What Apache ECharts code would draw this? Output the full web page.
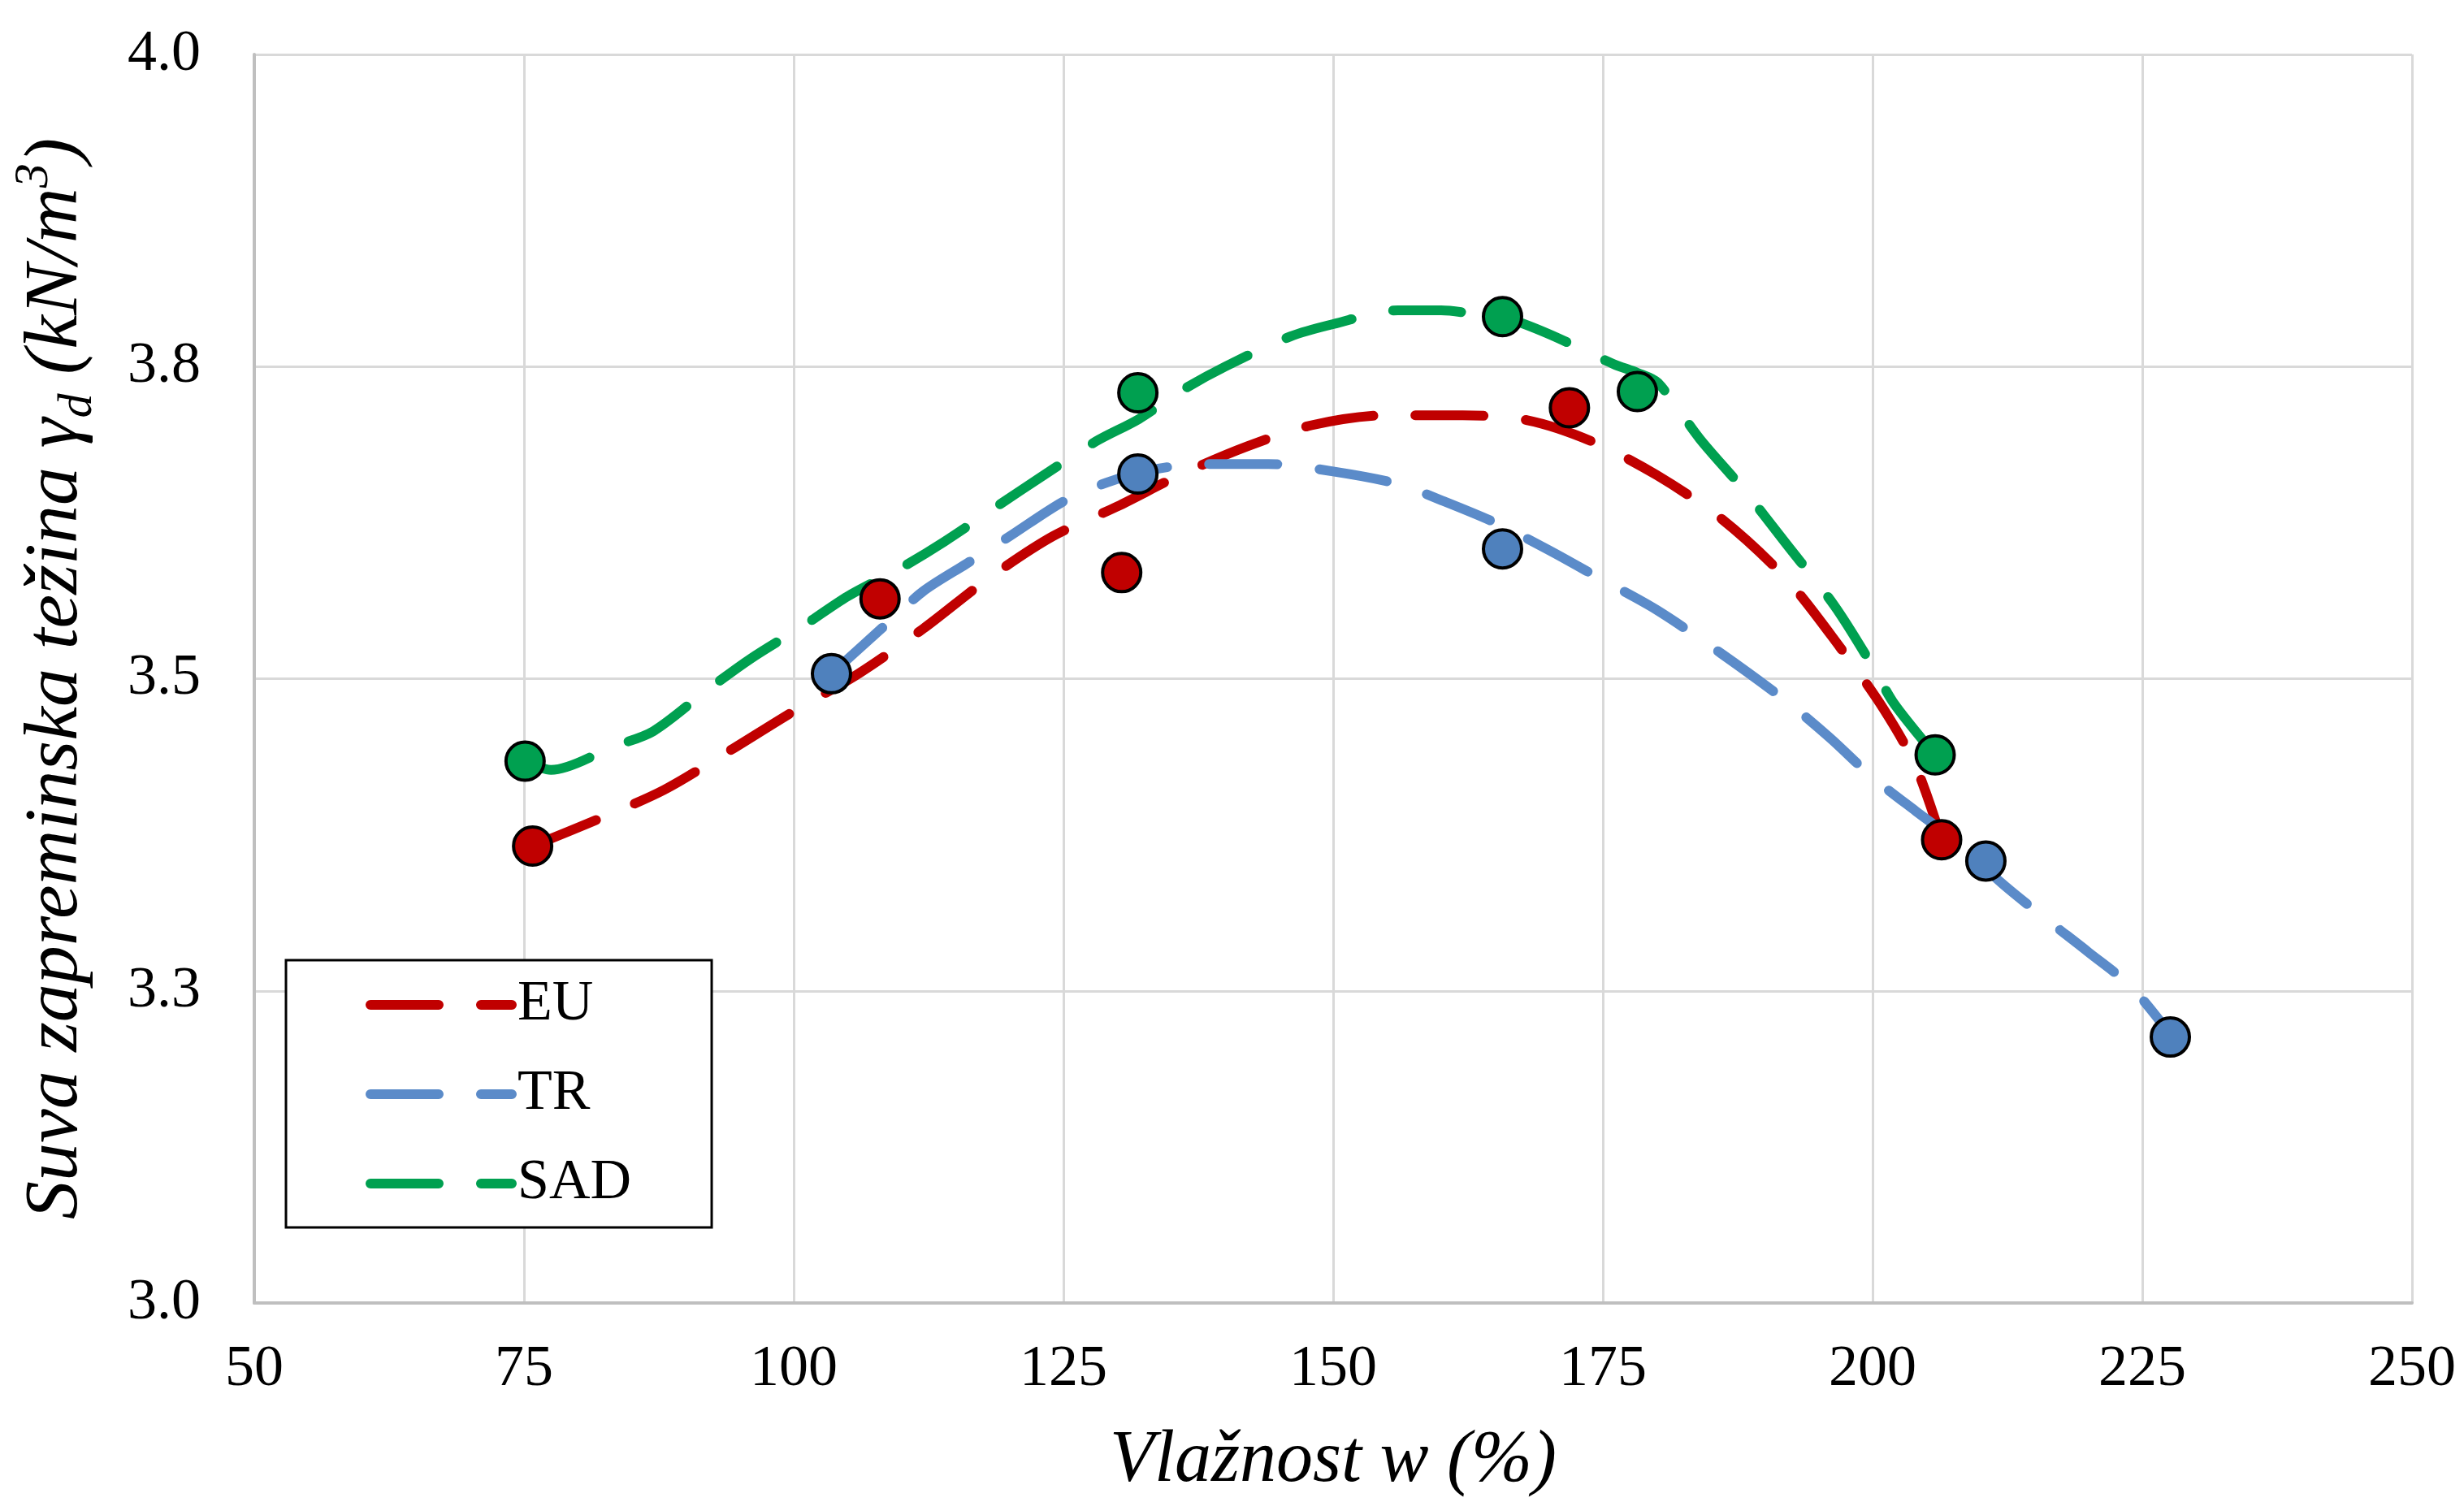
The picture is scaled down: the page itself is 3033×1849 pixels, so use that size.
<!DOCTYPE html>
<html>
<head>
<meta charset="utf-8">
<script src="https://cdn.jsdelivr.net/npm/echarts@6/dist/echarts.min.js"></script>
<style>
html,body{margin:0;padding:0;background:#fff;}
#chart{width:3033px;height:1849px;}
</style>
</head>
<body>
<div id="chart"></div>
<script>
// ---- tick labels ----
var xTickLabels = ['50','75','100','125','150','175','200','225','250'];
var yTickLabels = ['3.0','3.3','3.5','3.8','4.0'];

// ---- measured points ----
var euX  = [75.8, 108.0, 130.4, 171.9, 206.4];
var euY  = [3.366, 3.564, 3.585, 3.717, 3.371];
var trX  = [103.5, 131.9, 165.7, 210.5, 227.6];
var trY  = [3.504, 3.664, 3.604, 3.354, 3.213];
var sadX = [75.1, 131.9, 165.7, 178.2, 205.8];
var sadY = [3.434, 3.729, 3.790, 3.730, 3.439];

// ---- dashed curves ----
var euCurveX = [75.8, 82, 88, 94, 100, 106, 112, 118, 124, 130, 136, 142, 148, 155, 162, 168, 174, 180, 186, 192, 197, 201, 204, 206.4];
var euCurveY = [3.366, 3.388, 3.411, 3.442, 3.474, 3.504, 3.540, 3.580, 3.614, 3.638, 3.664, 3.686, 3.703, 3.711, 3.711, 3.707, 3.690, 3.663, 3.628, 3.580, 3.525, 3.476, 3.430, 3.371];
var trCurveX = [103.5, 108.5, 112, 116, 120, 125, 129, 133, 138, 144, 150, 156, 160, 165, 170, 175, 180, 186, 192, 196, 200, 204, 208, 212, 216, 220, 224, 227.6];
var trCurveY = [3.504, 3.543, 3.570, 3.592, 3.614, 3.642, 3.657, 3.667, 3.672, 3.672, 3.666, 3.656, 3.643, 3.625, 3.603, 3.579, 3.555, 3.520, 3.482, 3.453, 3.421, 3.394, 3.368, 3.336, 3.308, 3.281, 3.253, 3.215];
var sadCurveX = [75.1, 77.5, 83.4, 87, 92, 96, 101, 105, 110, 114, 119, 123, 128, 132, 136, 140, 146, 150, 156, 160, 164, 166, 170, 176, 178.2, 180.1, 184, 188, 192, 196.5, 200, 202, 205.8];
var sadCurveY = [3.434, 3.427, 3.446, 3.458, 3.491, 3.516, 3.543, 3.566, 3.589, 3.610, 3.639, 3.662, 3.690, 3.708, 3.731, 3.750, 3.774, 3.784, 3.795, 3.795, 3.791, 3.789, 3.776, 3.752, 3.745, 3.737, 3.692, 3.652, 3.608, 3.558, 3.510, 3.480, 3.439];

function pairs(xs, ys){ return xs.map(function(x,i){ return [x, ys[i]]; }); }

var RED = '#C00000', BLUE = '#4F81BD', GREEN = '#00A050';
var BLUE_LINE = '#5B8BC9';
var FONT = '"Liberation Serif", "Times New Roman", serif';
var DASH = [84, 52];

function curve(name, color, xs, ys){
  return {
    name: name, type: 'line', data: pairs(xs, ys),
    smooth: 0.3, symbol: 'none', showSymbol: false, z: 2,
    lineStyle: {color: color, width: 12, type: DASH, cap: 'round', join: 'round'},
    itemStyle: {color: color}
  };
}
function points(name, color, xs, ys){
  return {
    name: name, type: 'scatter', data: pairs(xs, ys), z: 5,
    symbol: 'circle', symbolSize: 47,
    itemStyle: {color: color, borderColor: '#000', borderWidth: 4, opacity: 1}
  };
}

var chart = echarts.init(document.getElementById('chart'), null, {renderer: 'canvas'});
chart.setOption({
  animation: false,
  backgroundColor: '#fff',
  grid: {left: 313, right: 64, top: 67, bottom: 238, containLabel: false},
  xAxis: {
    type: 'value', min: 50, max: 250, interval: 25,
    name: 'Vlažnost w (%)', nameLocation: 'middle', nameGap: 150,
    nameTextStyle: {fontFamily: FONT, fontStyle: 'italic', fontSize: 90, color: '#000'},
    axisLine: {show: true, lineStyle: {color: '#BFBFBF', width: 4}},
    axisTick: {show: false},
    axisLabel: {fontFamily: FONT, fontSize: 72, color: '#000', margin: 46,
      formatter: function(v, i){ return xTickLabels[i]; }},
    splitLine: {show: true, lineStyle: {color: '#D9D9D9', width: 3}}
  },
  yAxis: {
    type: 'value', min: 3.0, max: 4.0, interval: 0.25,
    name: 'Suva zapreminska težina γ{sub|d} (kN/m{sup|3})',
    nameLocation: 'middle', nameGap: 187, nameRotate: 90,
    nameTextStyle: {fontFamily: FONT, fontStyle: 'italic', fontSize: 94, color: '#000', lineHeight: 114,
      rich: {
        sub: {fontFamily: FONT, fontStyle: 'italic', fontSize: 60, lineHeight: 60, verticalAlign: 'bottom', color: '#000'},
        sup: {fontFamily: FONT, fontStyle: 'italic', fontSize: 60, lineHeight: 60, verticalAlign: 'top', color: '#000'}
      }},
    axisLine: {show: true, lineStyle: {color: '#BFBFBF', width: 4}},
    axisTick: {show: false},
    axisLabel: {fontFamily: FONT, fontSize: 72, color: '#000', margin: 66,
      formatter: function(v, i){ return yTickLabels[i]; }},
    splitLine: {show: true, lineStyle: {color: '#D9D9D9', width: 3}}
  },
  legend: {
    data: ['EU', 'TR', 'SAD'],
    orient: 'vertical', left: 352, top: 1182,
    backgroundColor: '#fff', borderColor: '#000', borderWidth: 3,
    padding: [20, 99, 19, 98],
    itemWidth: 174, itemHeight: 11, itemGap: 40,
    itemStyle: {opacity: 0},
    lineStyle: {width: 12, type: 'inherit', cap: 'round'},
    textStyle: {fontFamily: FONT, fontSize: 70, color: '#000', lineHeight: 70, padding: [0, 0, 0, 2]}
  },
  series: [
    curve('EU', RED, euCurveX, euCurveY),
    curve('TR', BLUE_LINE, trCurveX, trCurveY),
    curve('SAD', GREEN, sadCurveX, sadCurveY),
    points('EU podaci', RED, euX, euY),
    points('TR podaci', BLUE, trX, trY),
    points('SAD podaci', GREEN, sadX, sadY)
  ]
});
</script>
</body>
</html>
